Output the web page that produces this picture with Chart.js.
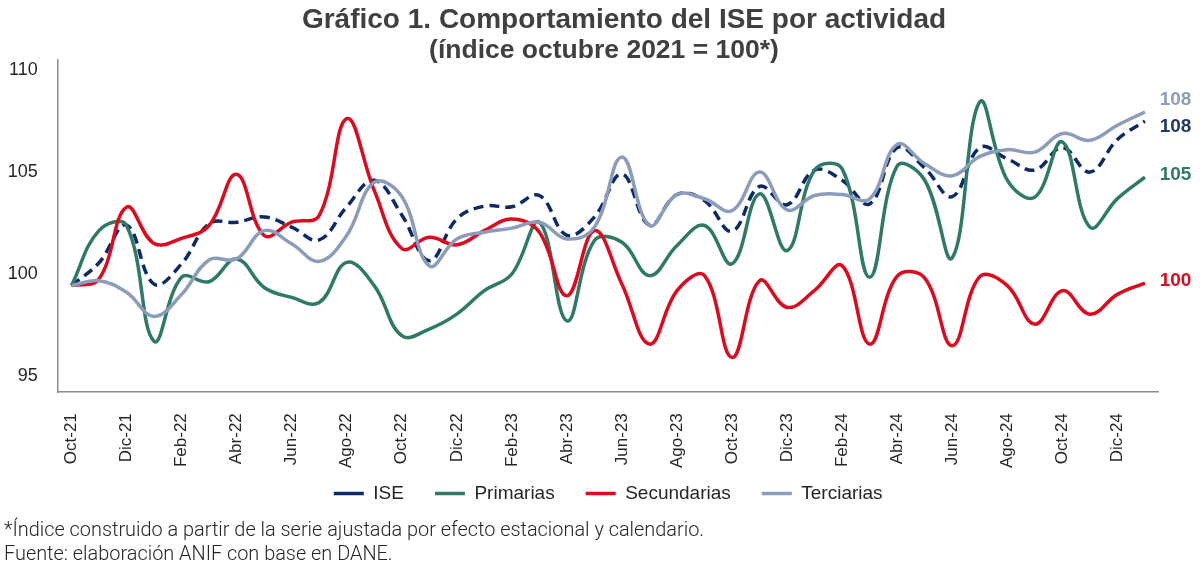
<!DOCTYPE html>
<html>
<head>
<meta charset="utf-8">
<script src="https://cdn.jsdelivr.net/npm/chart.js@4/dist/chart.umd.min.js"></script>
<style>
  body { margin: 0; background: #fff; }
  #wrap { position: relative; width: 1200px; height: 565px; }
  .ttl { position: absolute; left: 0; text-align: center; font-family: 'Liberation Sans', Arial, sans-serif;
    font-weight: bold; line-height: 28px; color: #404040; white-space: nowrap; }
  #t1 { top: 5px; width: 1248px; font-size: 28px; }
  #t2 { top: 35px; width: 1208px; font-size: 26.5px; }
  #notes { position: absolute; left: 4px; top: 518px; font: 300 19.9px Roboto, sans-serif; line-height: 24px; color: #262626; }
</style>
</head>
<body>
<div id="wrap">
  <canvas id="c" width="1200" height="565"></canvas>
  <div class="ttl" id="t1">Gráfico 1. Comportamiento del ISE por actividad</div>
  <div class="ttl" id="t2">(índice octubre 2021 = 100*)</div>
  <div id="notes">*Índice construido a partir de la serie ajustada por efecto estacional y calendario.<br>Fuente: elaboración ANIF con base en DANE.</div>
</div>
<script>
// months, Oct-21 .. Ene-25
const months = ['Oct-21','Nov-21','Dic-21','Ene-22','Feb-22','Mar-22','Abr-22','May-22','Jun-22','Jul-22',
  'Ago-22','Sep-22','Oct-22','Nov-22','Dic-22','Ene-23','Feb-23','Mar-23','Abr-23','May-23',
  'Jun-23','Jul-23','Ago-23','Sep-23','Oct-23','Nov-23','Dic-23','Ene-24','Feb-24','Mar-24',
  'Abr-24','May-24','Jun-24','Jul-24','Ago-24','Sep-24','Oct-24','Nov-24','Dic-24','Ene-25'];

// values
const ise = [99.43, 100.55, 102.4, 99.5, 100.5, 102.46, 102.54, 102.8, 102.3, 101.67,
  103.3, 104.6, 102.9, 100.65, 102.7, 103.33, 103.3, 103.85, 101.9, 102.8,
  104.9, 102.4, 103.9, 103.6, 102.1, 104.3, 103.4, 105.1, 104.6, 103.44,
  106.2, 105.2, 103.8, 106.2, 105.65, 105.1, 106.2, 105.0, 106.6, 107.5];
const primarias = [99.43, 102.13, 102.38, 96.7, 99.84, 99.62, 100.74, 99.34, 98.85, 98.6,
  100.57, 99.43, 96.97, 97.3, 98.03, 99.18, 100.0, 102.54, 97.7, 101.64,
  101.56, 99.92, 101.4, 102.38, 100.5, 103.93, 101.15, 105.1, 105.16, 99.84,
  105.3, 104.6, 100.8, 108.44, 104.6, 103.77, 106.48, 102.3, 103.7, 104.75];
const secundarias = [99.43, 99.75, 103.28, 101.5, 101.75, 102.38, 104.89, 101.89, 102.54, 102.87,
  107.62, 104.1, 101.25, 101.8, 101.43, 102.13, 102.7, 102.05, 98.93, 102.13,
  99.5, 96.56, 99.18, 99.92, 95.9, 99.67, 98.36, 99.2, 100.4, 96.56,
  99.9, 99.8, 96.48, 99.87, 99.43, 97.54, 99.18, 98.03, 99.0, 99.55];
const terciarias = [99.43, 99.67, 99.1, 97.92, 99.0, 100.69, 100.74, 102.13, 101.48, 100.62,
  101.89, 104.5, 103.8, 100.4, 101.72, 102.05, 102.25, 102.54, 101.72, 102.3,
  105.74, 102.38, 103.9, 103.69, 103.11, 105.0, 103.15, 103.85, 103.9, 103.69,
  106.36, 105.41, 104.82, 105.77, 106.1, 105.98, 106.89, 106.56, 107.3, 107.95];

const yTicks = [95, 100, 105, 110];

// last-value labels at the right end of each line
const endLabels = {
  id: 'endLabels',
  afterDatasetsDraw(chart) {
    const ctx = chart.ctx;
    const nudge = [6, -2, -2, -12];
    ctx.save();
    ctx.font = 'bold 19px "Liberation Sans", Arial, sans-serif';
    ctx.textAlign = 'left';
    ctx.textBaseline = 'middle';
    chart.data.datasets.forEach((ds, i) => {
      const meta = chart.getDatasetMeta(i);
      const pt = meta.data[meta.data.length - 1];
      ctx.fillStyle = ds.labelColor || ds.borderColor;
      ctx.fillText(Math.round(ds.data[ds.data.length - 1]), chart.chartArea.right + 1, pt.y + nudge[i]);
    });
    ctx.restore();
  }
};

// pull the legend up closer to the rotated month labels
const legendUp = {
  id: 'legendUp',
  afterLayout(chart) {
    const lg = chart.legend;
    if (lg) { lg.top -= 19.7; lg.bottom -= 19.7; }
  }
};

const line = (label, data, color, order, extra) => Object.assign({
  label, data, order,
  borderColor: color, backgroundColor: color,
  borderWidth: 3.5, pointRadius: 0, tension: 0.4, fill: false
}, extra || {});

new Chart(document.getElementById('c'), {
  type: 'line',
  data: {
    labels: months,
    datasets: [
      line('ISE', ise, '#0b2a66', 4, { borderDash: [10, 6], labelColor: '#1f3864' }),
      line('Primarias', primarias, '#2e7a66', 3),
      line('Secundarias', secundarias, '#e0081c', 2),
      line('Terciarias', terciarias, '#8b9dba', 1)
    ]
  },
  options: {
    responsive: false,
    animation: false,
    layout: { padding: { top: 60, right: 41.3, bottom: 32.3, left: 0 } },
    plugins: {
      title: { display: false },
      tooltip: { enabled: false },
      legend: {
        position: 'bottom',
        fullSize: false,
        labels: {
          usePointStyle: true, pointStyle: 'line', pointStyleWidth: 30,
          padding: 31, color: '#262626',
          font: { family: '"Liberation Sans", Arial, sans-serif', size: 19 },
          sort: (a, b) => a.datasetIndex - b.datasetIndex
        }
      }
    },
    scales: {
      x: {
        offset: true,
        grid: { display: false, drawTicks: false },
        border: { display: true, color: '#8c8c8c', width: 1.5 },
        afterFit: s => { s.height = 80.5; },
        ticks: {
          autoSkip: false, minRotation: 90, maxRotation: 90, padding: 21, color: '#262626',
          font: { family: '"Liberation Sans", Arial, sans-serif', size: 17 },
          callback: (v, i) => (i % 2 === 0 ? months[i] : '')
        }
      },
      y: {
        min: 94.2, max: 110.5,
        grid: { display: false, drawTicks: false },
        border: { display: true, color: '#8c8c8c', width: 1.5 },
        afterFit: s => { s.width = 57.7; },
        afterBuildTicks: s => { s.ticks = yTicks.map(v => ({ value: v })); },
        ticks: {
          padding: 20, color: '#262626',
          font: { family: '"Liberation Sans", Arial, sans-serif', size: 18 }
        }
      }
    }
  },
  plugins: [endLabels, legendUp]
});
</script>
</body>
</html>
